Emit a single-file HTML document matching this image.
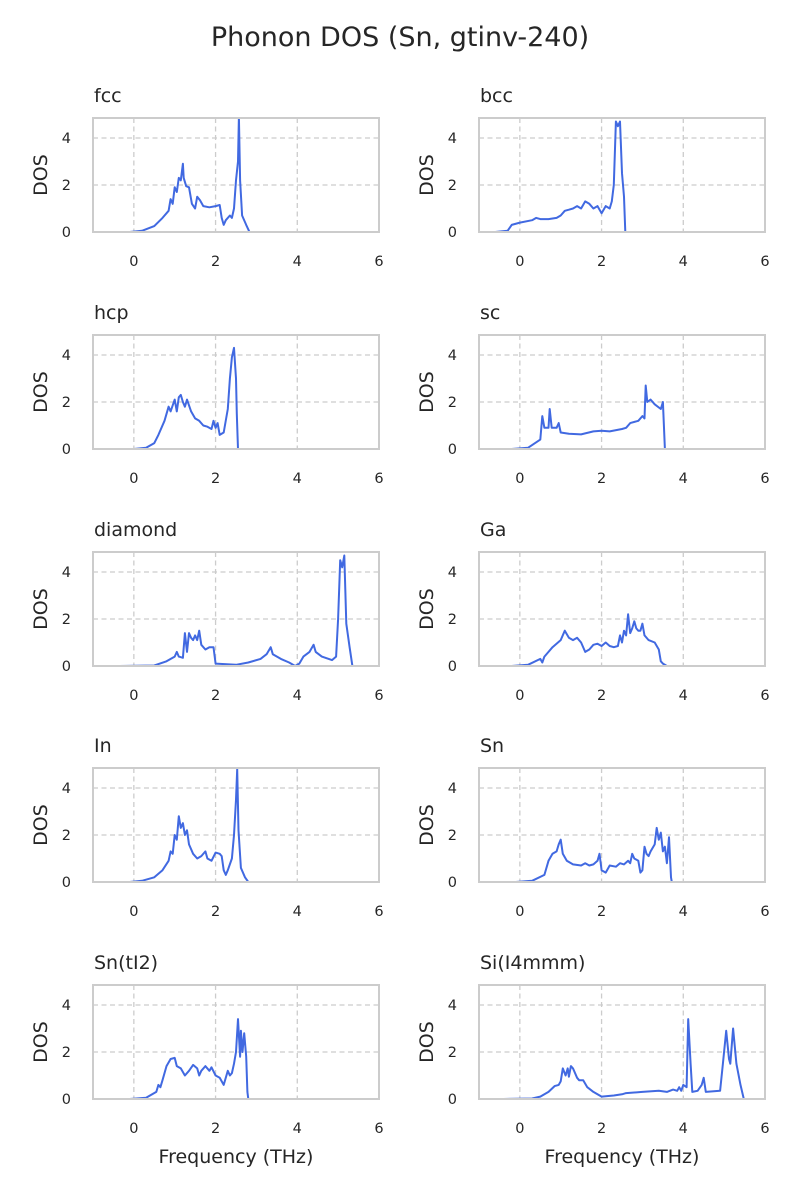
<!DOCTYPE html>
<html><head><meta charset="utf-8"><style>
html,body{margin:0;padding:0;background:#fff;}
svg{display:block;font-family:"DejaVu Sans","Liberation Sans",sans-serif;}
</style></head><body>
<svg id="chart" width="800" height="1200" viewBox="0 0 800 1200">
<text x="400" y="46" text-anchor="middle" font-size="27" fill="#262626">Phonon DOS (Sn, gtinv-240)</text>
</svg>
<script>
const panelNames = ["fcc","bcc","hcp","sc","diamond","Ga","In","Sn","Sn(tI2)","Si(I4mmm)"];
const xTicks = [0,2,4,6];
const yTicks = [0,2,4];
const fcc = [[-0.1,0],[0.2,0.05],[0.5,0.25],[0.7,0.6],[0.85,0.9],[0.9,1.4],[0.95,1.2],[1.0,1.9],[1.05,1.7],[1.1,2.3],[1.15,2.2],[1.2,2.9],[1.22,2.3],[1.28,1.95],[1.35,1.9],[1.42,1.2],[1.5,1.0],[1.55,1.5],[1.62,1.35],[1.7,1.1],[1.85,1.05],[2.0,1.1],[2.1,1.15],[2.15,0.6],[2.2,0.3],[2.25,0.5],[2.35,0.7],[2.4,0.6],[2.45,1.0],[2.5,2.2],[2.55,3.0],[2.57,4.9],[2.6,2.2],[2.65,0.7],[2.75,0.3],[2.83,0],[3.0,0]];
const bcc = [[-0.6,0],[-0.3,0.05],[-0.2,0.3],[0,0.4],[0.3,0.5],[0.4,0.6],[0.5,0.55],[0.7,0.55],[0.9,0.6],[1.0,0.7],[1.1,0.9],[1.2,0.95],[1.3,1.0],[1.4,1.1],[1.5,1.0],[1.6,1.3],[1.7,1.2],[1.8,1.0],[1.9,1.1],[2.0,0.8],[2.1,1.1],[2.2,1.0],[2.25,1.3],[2.3,2.0],[2.35,4.7],[2.4,4.5],[2.45,4.7],[2.5,2.5],[2.55,1.5],[2.58,0],[2.7,0]];
const hcp = [[0,0],[0.3,0.05],[0.5,0.25],[0.6,0.6],[0.75,1.2],[0.85,1.8],[0.9,1.6],[1.0,2.1],[1.05,1.6],[1.1,2.2],[1.15,2.3],[1.2,2.0],[1.25,1.8],[1.3,2.1],[1.4,1.6],[1.5,1.3],[1.6,1.2],[1.7,1.0],[1.8,0.95],[1.9,0.85],[1.95,1.2],[2.0,0.9],[2.05,1.1],[2.1,0.6],[2.2,0.7],[2.3,1.7],[2.35,3.0],[2.4,3.9],[2.45,4.3],[2.5,3.0],[2.52,1.5],[2.55,0],[2.8,0]];
const sc = [[-0.2,0],[0.2,0.05],[0.5,0.4],[0.55,1.4],[0.6,0.9],[0.7,0.9],[0.73,1.7],[0.78,0.9],[0.9,0.9],[0.95,1.1],[1.0,0.7],[1.2,0.65],[1.5,0.62],[1.8,0.75],[2.0,0.78],[2.2,0.75],[2.5,0.85],[2.6,0.9],[2.7,1.1],[2.9,1.2],[3.0,1.4],[3.05,1.3],[3.08,2.7],[3.12,2.0],[3.2,2.1],[3.3,1.9],[3.45,1.7],[3.5,2.0],[3.55,0],[3.8,0]];
const diamond = [[-0.35,0],[0.5,0.02],[0.8,0.2],[1.0,0.4],[1.05,0.6],[1.1,0.4],[1.2,0.35],[1.25,1.4],[1.3,0.6],[1.35,1.4],[1.4,1.2],[1.45,1.1],[1.5,1.3],[1.55,1.1],[1.6,1.5],[1.65,0.9],[1.75,0.7],[1.85,0.8],[1.95,0.8],[2.0,0.1],[2.5,0.05],[2.8,0.15],[3.1,0.3],[3.25,0.5],[3.35,0.8],[3.4,0.5],[3.6,0.3],[3.8,0.15],[3.95,0],[4.05,0.1],[4.15,0.4],[4.3,0.6],[4.4,0.9],[4.45,0.6],[4.6,0.4],[4.85,0.25],[4.95,0.4],[5.0,2.0],[5.05,4.5],[5.1,4.2],[5.15,4.7],[5.2,1.8],[5.28,0.8],[5.35,0],[5.85,0]];
const ga = [[-0.2,0],[0.2,0.05],[0.5,0.3],[0.55,0.15],[0.6,0.4],[0.7,0.6],[0.8,0.8],[1.0,1.1],[1.1,1.5],[1.2,1.2],[1.3,1.1],[1.4,1.2],[1.5,1.0],[1.6,0.6],[1.7,0.7],[1.8,0.9],[1.9,0.95],[2.0,0.85],[2.1,1.0],[2.2,0.85],[2.3,0.8],[2.4,0.85],[2.45,1.3],[2.5,1.0],[2.55,1.5],[2.6,1.3],[2.65,2.2],[2.7,1.4],[2.75,1.6],[2.8,1.9],[2.85,1.6],[2.9,1.5],[2.95,1.5],[3.0,1.8],[3.05,1.3],[3.15,1.1],[3.3,1.0],[3.4,0.7],[3.45,0.2],[3.5,0.1],[3.6,0],[3.8,0]];
const inn = [[-0.1,0],[0.2,0.05],[0.5,0.2],[0.7,0.5],[0.85,0.9],[0.9,1.3],[0.95,1.2],[1.0,2.0],[1.05,1.8],[1.1,2.8],[1.15,2.3],[1.2,2.5],[1.25,2.0],[1.3,2.2],[1.35,1.6],[1.45,1.2],[1.55,1.0],[1.65,1.1],[1.75,1.3],[1.8,1.0],[1.9,0.9],[2.0,1.25],[2.1,1.2],[2.15,1.1],[2.2,0.5],[2.25,0.3],[2.3,0.5],[2.4,1.0],[2.45,2.0],[2.5,3.5],[2.53,4.8],[2.56,2.2],[2.62,0.6],[2.72,0.2],[2.8,0],[3.0,0]];
const sn = [[-0.1,0],[0.3,0.05],[0.6,0.3],[0.7,0.9],[0.8,1.2],[0.9,1.3],[0.95,1.6],[1.0,1.8],[1.05,1.2],[1.15,0.9],[1.3,0.75],[1.5,0.7],[1.6,0.8],[1.7,0.7],[1.8,0.75],[1.9,0.9],[1.95,1.2],[2.0,0.5],[2.1,0.4],[2.2,0.7],[2.35,0.65],[2.45,0.8],[2.55,0.75],[2.65,0.9],[2.7,0.8],[2.75,1.2],[2.8,1.0],[2.9,0.9],[2.95,0.4],[3.0,0.5],[3.05,1.5],[3.1,1.2],[3.15,1.1],[3.2,1.3],[3.3,1.6],[3.35,2.3],[3.4,1.8],[3.45,2.1],[3.5,1.3],[3.55,1.5],[3.6,0.8],[3.65,1.9],[3.7,0.2],[3.72,0],[4.0,0]];
const snTI2 = [[-0.1,0],[0.3,0.05],[0.55,0.3],[0.6,0.6],[0.65,0.5],[0.7,0.8],[0.8,1.4],[0.9,1.7],[1.0,1.75],[1.05,1.4],[1.15,1.3],[1.25,1.0],[1.35,1.2],[1.45,1.45],[1.55,1.3],[1.6,1.0],[1.65,1.2],[1.75,1.4],[1.85,1.2],[1.9,1.35],[2.0,1.0],[2.1,0.9],[2.2,0.6],[2.3,1.2],[2.35,1.0],[2.4,1.1],[2.45,1.5],[2.5,2.0],[2.55,3.4],[2.6,1.8],[2.62,2.9],[2.66,2.0],[2.7,2.8],[2.75,1.8],[2.78,0.3],[2.8,0],[3.1,0]];
const siI4mmm = [[-0.4,0],[0.3,0.02],[0.5,0.1],[0.7,0.3],[0.85,0.55],[0.95,0.6],[1.0,0.75],[1.05,1.3],[1.12,1.0],[1.17,1.3],[1.2,0.95],[1.25,1.4],[1.3,1.3],[1.4,0.9],[1.45,0.8],[1.55,0.8],[1.65,0.5],[1.8,0.3],[2.0,0.1],[2.3,0.15],[2.5,0.2],[2.6,0.25],[3.0,0.3],[3.4,0.35],[3.6,0.3],[3.75,0.4],[3.85,0.35],[3.9,0.5],[3.95,0.35],[4.0,0.6],[4.08,0.5],[4.12,3.4],[4.18,1.5],[4.22,0.3],[4.35,0.35],[4.45,0.6],[4.5,0.9],[4.55,0.3],[4.9,0.35],[4.97,1.5],[5.05,2.9],[5.12,1.7],[5.15,1.5],[5.22,3.0],[5.3,1.5],[5.4,0.6],[5.48,0],[6.0,0]];
const series = [fcc,bcc,hcp,sc,diamond,ga,inn,sn,snTI2,siI4mmm];

const NS = "http://www.w3.org/2000/svg";
const svg = document.getElementById("chart");
const colX = [93,479], rowY = [118,335,552,768,985], PW = 286, PH = 114;
const xMin = -1, xMax = 6, yMin = 0, yMax = 4.85;
function mk(tag, attrs, parent){const e=document.createElementNS(NS,tag);for(const k in attrs)e.setAttribute(k,attrs[k]);(parent||svg).appendChild(e);return e;}
function slug(s){return s.toLowerCase().replace(/[^a-z0-9]+/g,'-').replace(/-+$/,'');}

panelNames.forEach((name,i)=>{
  const x0 = colX[i%2], y0 = rowY[Math.floor(i/2)];
  const sx = v => x0 + (v - xMin)/(xMax - xMin)*PW;
  const sy = v => y0 + PH - (v - yMin)/(yMax - yMin)*PH;
  const g = mk("g",{});
  
  
  xTicks.forEach(t=>{
    if (t > xMin && t < xMax) {
      const l = mk("line",{x1:sx(t),x2:sx(t),y1:y0,y2:y0+PH,stroke:"#cccccc","stroke-width":1.3,"stroke-dasharray":"5,3.5"},g);
      
      
    }
    const tx = mk("text",{x:sx(t),y:y0+PH+34,"text-anchor":"middle","font-size":14.5,fill:"#262626"},g);
    tx.textContent = t;
    
    
  });
  yTicks.forEach(t=>{
    if (t > yMin) {
      const l = mk("line",{x1:x0,x2:x0+PW,y1:sy(t),y2:sy(t),stroke:"#cccccc","stroke-width":1.3,"stroke-dasharray":"5,3.5"},g);
      
      
    }
    const tx = mk("text",{x:x0-22,y:sy(t)+5,"text-anchor":"end","font-size":14.5,fill:"#262626"},g);
    tx.textContent = t;
    
    
  });
  const clipId = "clip"+i;
  const cp = mk("clipPath",{id:clipId},g);
  mk("rect",{x:x0,y:y0,width:PW,height:PH},cp);
  const pts = series[i].map(p=>sx(p[0]).toFixed(1)+","+sy(p[1]).toFixed(1)).join(" ");
  const line = mk("polyline",{points:pts,fill:"none",stroke:"#4169e1","stroke-width":2,"stroke-linejoin":"round","clip-path":"url(#"+clipId+")"},g);
  
  
  const fr = mk("rect",{x:x0,y:y0,width:PW,height:PH,fill:"none",stroke:"#cccccc","stroke-width":2},g);
  
  
  const tt = mk("text",{x:x0+1,y:y0-16,"font-size":19,fill:"#262626"},g);
  tt.textContent = name;
  
  
  const yl = mk("text",{x:0,y:0,"text-anchor":"middle","font-size":19,fill:"#262626",transform:"translate("+(x0-46)+","+(y0+PH/2)+") rotate(-90)"},g);
  yl.textContent = "DOS";
  
  
  if (Math.floor(i/2) === 4) {
    const xl = mk("text",{x:x0+PW/2,y:y0+PH+64,"text-anchor":"middle","font-size":19,fill:"#262626"},g);
    xl.textContent = "Frequency (THz)";
    
    
  }
});
</script>
</body></html>
